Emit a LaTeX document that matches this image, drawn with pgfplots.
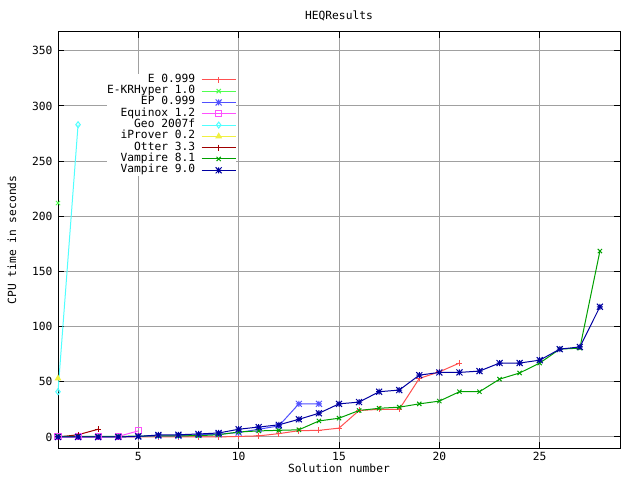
\documentclass[border=0pt]{standalone}
\usepackage{fontspec}
\setmainfont{DejaVu Sans Mono}
\usepackage{pgfplots}
\pgfplotsset{compat=1.18}
\definecolor{cE}{HTML}{FF5050}
\definecolor{cEK}{HTML}{50FF50}
\definecolor{cEP}{HTML}{5050FF}
\definecolor{cEq}{HTML}{FF50FF}
\definecolor{cGeo}{HTML}{50FFFF}
\definecolor{cIP}{HTML}{F0F040}
\definecolor{cOt}{HTML}{A00000}
\definecolor{cV8}{HTML}{00A000}
\definecolor{cV9}{HTML}{0000A0}
\definecolor{gridgray}{HTML}{A0A0A0}
\pgfdeclareplotmark{gpstar}{%
  \pgfpathmoveto{\pgfqpoint{-\pgfplotmarksize}{0pt}}\pgfpathlineto{\pgfqpoint{\pgfplotmarksize}{0pt}}%
  \pgfpathmoveto{\pgfqpoint{0pt}{-\pgfplotmarksize}}\pgfpathlineto{\pgfqpoint{0pt}{\pgfplotmarksize}}%
  \pgfpathmoveto{\pgfqpoint{-\pgfplotmarksize}{-\pgfplotmarksize}}\pgfpathlineto{\pgfqpoint{\pgfplotmarksize}{\pgfplotmarksize}}%
  \pgfpathmoveto{\pgfqpoint{-\pgfplotmarksize}{\pgfplotmarksize}}\pgfpathlineto{\pgfqpoint{\pgfplotmarksize}{-\pgfplotmarksize}}%
  \pgfusepathqstroke}
\newcommand{\gpfont}{\fontsize{11.3}{11.3}\selectfont}
\begin{document}
\begin{tikzpicture}
\useasboundingbox (0,0) rectangle (640bp,480bp);
\begin{axis}[
  at={(58bp,32bp)}, anchor=south west,
  scale only axis, width=562bp, height=416bp,
  xmin=1, xmax=29, ymin=-10, ymax=367,
  xtick={5,10,15,20,25}, ytick={0,50,100,150,200,250,300,350},
  tick align=inside, xtick pos=both, ytick pos=both,
  major tick length=6bp,
  tick style={black, line width=1bp},
  axis line style={black, line width=1bp},
  grid=major, major grid style={gridgray, line width=1bp},
  /pgf/number format/assume math mode=true,
  tick label style={font=\gpfont},
  yticklabel style={xshift=-2bp},
  xticklabel style={yshift=-1bp},
  xlabel={Solution number},
  xlabel style={font=\gpfont, at={(axis description cs:0.5,-0.048)}, anchor=center},
  ylabel={CPU time in seconds},
  ylabel style={font=\gpfont, at={(axis description cs:-0.082,0.5)}, anchor=center},
  clip=false,
  every axis plot/.append style={line width=1bp, mark size=3bp, mark options={solid}},
  legend plot pos=right,
  legend cell align=right,
  legend image code/.code={\draw[mark repeat=2,mark phase=2] plot coordinates {(0bp,0bp) (17bp,0bp) (34bp,0bp)};},
  legend style={at={(axis description cs:0.087,0.899)}, anchor=north west,
    draw=none, fill=white, inner xsep=0pt, inner ysep=0pt, row sep=0pt,
    font=\gpfont,
    nodes={inner sep=0pt, text height=8bp, text depth=3.3bp},
    /tikz/every even column/.append style={column sep=6bp},
    /tikz/every odd column/.append style={column sep=6bp}},
]
\addplot[cE, mark=+] coordinates {
(1,0) (2,0) (3,0) (4,0) (5,0) (6,0) (7,0) (8,0) (9,0) (10,0.5)
(11,1) (12,3) (13,5.7) (14,6) (15,8) (16,24) (17,25) (18,25) (19,53) (20,59) (21,67)};
\addlegendentry{E 0.999}
\addplot[cEK, mark=x] coordinates {(1,212)};
\addlegendentry{E-KRHyper 1.0}
\addplot[cEP, mark=gpstar] coordinates {
(1,0) (2,0) (3,0) (4,0) (5,0.5) (6,1) (7,1) (8,2) (9,2.5) (10,4)
(11,7) (12,10) (13,30) (14,30)};
\addlegendentry{EP 0.999}
\addplot[cEq, mark=square] coordinates {(1,0) (2,0) (3,0) (4,0.5) (5,5.5)};
\addlegendentry{Equinox 1.2}
\addplot[cGeo, mark=diamond] coordinates {(1,41) (2,283)};
\addlegendentry{Geo 2007f}
\addplot[cIP, mark=triangle*] coordinates {(1,53)};
\addlegendentry{iProver 0.2}
\addplot[cOt, mark=+] coordinates {(1,0) (2,2) (3,7)};
\addlegendentry{Otter 3.3}
\addplot[cV8, mark=x] coordinates {
(1,0.5) (2,0.5) (3,0.5) (4,0.5) (5,0.8) (6,1) (7,1) (8,1.2) (9,2) (10,4.5)
(11,5.5) (12,6) (13,6.5) (14,14.5) (15,17) (16,24) (17,26) (18,27) (19,30) (20,32.5)
(21,41) (22,41) (23,52.4) (24,58) (25,67) (26,79.6) (27,80.5) (28,168.5)};
\addlegendentry{Vampire 8.1}
\addplot[cV9, mark=gpstar] coordinates {
(1,0) (2,0) (3,0) (4,0) (5,0.5) (6,1.8) (7,2) (8,2.7) (9,3.6) (10,7)
(11,9) (12,11) (13,16) (14,21.5) (15,30) (16,31.6) (17,41) (18,42.5) (19,56) (20,58.5)
(21,58.5) (22,59.7) (23,67) (24,67) (25,69.6) (26,79.6) (27,81.6) (28,118)};
\addlegendentry{Vampire 9.0}
\node[font=\gpfont, anchor=center] at (axis description cs:0.5,1.038) {HEQResults};
\end{axis}
\end{tikzpicture}
\end{document}
